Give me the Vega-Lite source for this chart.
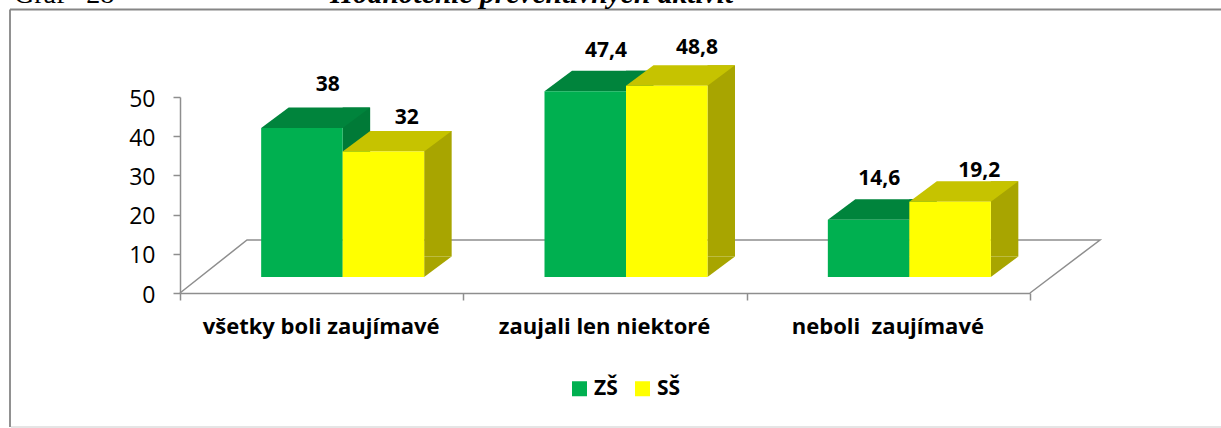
{
"$schema":"https://vega.github.io/schema/vega-lite/v6.json",
"width":850,"height":196,
"autosize":{"type":"none"},
"padding":{"left":180,"top":97,"right":191,"bottom":135},
"background":"white",
"view":{"stroke":null},
"data":{"values":[
{"kategoria":"všetky boli zaujímavé","skola":"ZŠ","hodnota":38,"popis":"38"},
{"kategoria":"všetky boli zaujímavé","skola":"SŠ","hodnota":32,"popis":"32"},
{"kategoria":"zaujali len niektoré","skola":"ZŠ","hodnota":47.4,"popis":"47,4"},
{"kategoria":"zaujali len niektoré","skola":"SŠ","hodnota":48.8,"popis":"48,8"},
{"kategoria":"neboli\u00a0 zaujímavé","skola":"ZŠ","hodnota":14.6,"popis":"14,6"},
{"kategoria":"neboli\u00a0 zaujímavé","skola":"SŠ","hodnota":19.2,"popis":"19,2"}
]},
"encoding":{
"x":{"field":"kategoria","type":"nominal","sort":null,"scale":{"domain":["všetky boli zaujímavé","zaujali len niektoré","neboli\u00a0 zaujímavé"],"paddingInner":0,"paddingOuter":0},"axis":{"title":null,"labelAngle":0,"labelLimit":500,"labelFont":"Open Sans","labelFontWeight":"bold","labelFontSize":22,"labelColor":"#000000","labelPadding":16,"labelOffset":-1,"tickBand":"extent","tickSize":7,"tickColor":"#8e8e8e","tickWidth":1.5,"domainColor":"#8e8e8e","domainWidth":1.5,"grid":false}},
"y":{"field":"hodnota","type":"quantitative","scale":{"domain":[0,50],"nice":false},"axis":{"title":null,"values":[0,10,20,30,40,50],"labelFont":"Open Sans","labelFontSize":23,"labelColor":"#000000","labelPadding":18,"labelOffset":2,"tickSize":7,"tickColor":"#8e8e8e","tickWidth":1.5,"domainColor":"#8e8e8e","domainWidth":1.5,"grid":false}}
},
"layer":[
{"transform":[{"filter":"datum.skola=='ZŠ' && datum.hodnota==47.4"}],
 "mark":{"type":"point","shape":"M-595,-283.5 L616,-283.5 M-595,-283.5 L-595,134","size":4,"filled":false,"stroke":"#868686","strokeWidth":1.8,"opacity":1},
 "encoding":{"y":{"datum":0}}},
{"transform":[{"filter":"datum.skola=='ZŠ' && datum.hodnota==47.4"}],
 "mark":{"type":"point","shape":"M-594,134 L616,134","size":4,"filled":false,"stroke":"#dddddd","strokeWidth":1.5,"opacity":1},
 "encoding":{"y":{"datum":0}}},
{"transform":[{"filter":"datum.skola=='ZŠ' && datum.hodnota==47.4"}],
 "mark":{"type":"point","shape":"M-425,0 L-358,-53 L495,-53 L425,0","size":4,"filled":false,"stroke":"#8e8e8e","strokeWidth":1.5,"opacity":1},
 "encoding":{"y":{"datum":0}}},
{"transform":[{"filter":"datum.skola=='ZŠ' && datum.hodnota==47.4"}],
 "mark":{"type":"text","text":"Graf\u00a0\u00a0\u00a028","font":"Liberation Serif","fontSize":28,"color":"#000000","align":"left","baseline":"alphabetic","dx":-591,"dy":-290},
 "encoding":{"y":{"datum":0}}},
{"transform":[{"filter":"datum.skola=='ZŠ' && datum.hodnota==47.4"}],
 "mark":{"type":"text","text":"Hodnotenie preventívnych aktivít","font":"Liberation Serif","fontSize":29.5,"fontWeight":"bold","fontStyle":"italic","color":"#000000","align":"left","baseline":"alphabetic","dx":-275,"dy":-290},
 "encoding":{"y":{"datum":0}}},
{"transform":[{"filter":"datum.skola=='ZŠ'"}],"layer":[
 {"mark":{"type":"bar","width":27.5,"xOffset":34.75,"yOffset":-36.5,"y2Offset":-36.5,"color":"#007A37"}},
 {"mark":{"type":"point","shape":"M40.75,0 L40.75,-20.5 L68.25,-20.5 Z","size":4,"filled":true,"color":"#007A37","opacity":1,"xOffset":-19.75,"yOffset":-16},"encoding":{"y":{"datum":0}}},
 {"mark":{"type":"point","shape":"M-40.75,0 L40.75,0 L68.25,-20.5 L-13.25,-20.5 Z","size":4,"filled":true,"color":"#00843C","opacity":1,"xOffset":-19.75,"yOffset":-16}},
 {"mark":{"type":"bar","width":81.5,"xOffset":-19.75,"yOffset":-16,"y2Offset":-16},"encoding":{"color":{"field":"skola","type":"nominal","sort":null,"scale":{"domain":["ZŠ","SŠ"],"range":["#00B050","#FFFF00"]},"legend":{"orient":"none","legendX":389,"legendY":281,"direction":"horizontal","title":null,"symbolType":"square","symbolSize":225,"symbolStrokeWidth":0,"labelFont":"Open Sans","labelFontWeight":"bold","labelFontSize":21,"labelColor":"#000000","columnPadding":14,"labelOffset":4}}}}
]},
{"transform":[{"filter":"datum.skola=='SŠ'"}],"layer":[
 {"mark":{"type":"bar","width":27.5,"xOffset":116.25,"yOffset":-36.5,"y2Offset":-36.5,"color":"#A8A500"}},
 {"mark":{"type":"point","shape":"M40.75,0 L40.75,-20.5 L68.25,-20.5 Z","size":4,"filled":true,"color":"#A8A500","opacity":1,"xOffset":61.75,"yOffset":-16},"encoding":{"y":{"datum":0}}},
 {"mark":{"type":"point","shape":"M-40.75,0 L40.75,0 L68.25,-20.5 L-13.25,-20.5 Z","size":4,"filled":true,"color":"#C6C300","opacity":1,"xOffset":61.75,"yOffset":-16}},
 {"mark":{"type":"bar","width":81.5,"xOffset":61.75,"yOffset":-16,"y2Offset":-16},"encoding":{"color":{"field":"skola","type":"nominal","sort":null,"scale":{"domain":["ZŠ","SŠ"],"range":["#00B050","#FFFF00"]}}}}
]},
{"mark":{"type":"text","font":"Open Sans","fontWeight":"bold","fontSize":21,"color":"#000000","baseline":"alphabetic","align":"center",
 "dx":{"expr":"({'38':6,'32':85,'47,4':1,'48,8':92,'14,6':-9,'19,2':91})[datum.popis]"},
 "dy":{"expr":"-({'38':53,'32':44,'47,4':50,'48,8':48,'14,6':51,'19,2':41})[datum.popis]"}},
 "encoding":{"text":{"field":"popis"}}}
]
}
